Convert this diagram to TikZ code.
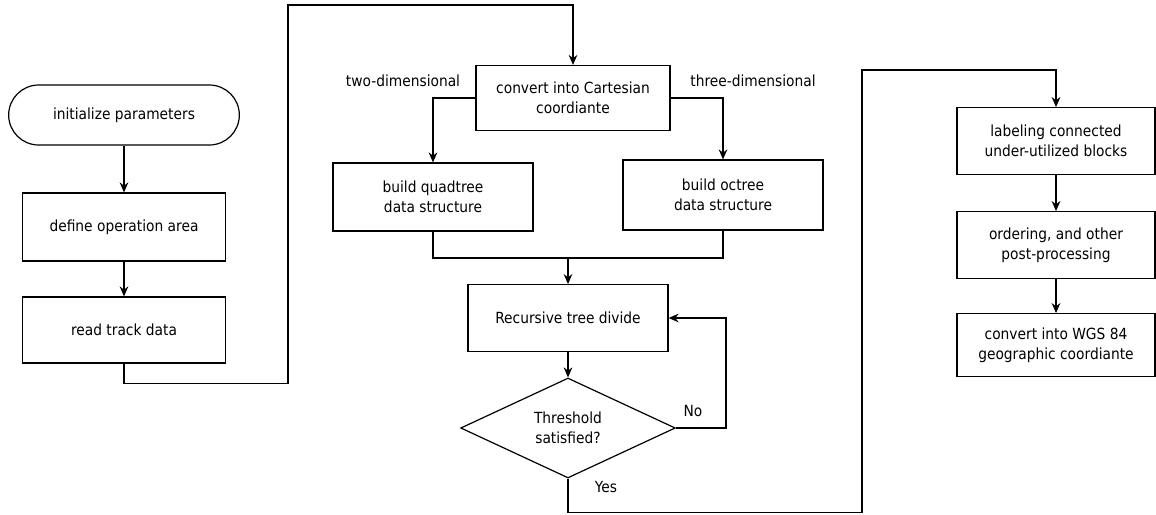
\documentclass[tikz,border=0pt]{standalone}
\usepackage{fontspec}
\setmainfont{DejaVu Sans Condensed}
\usepackage{tikz}
\usetikzlibrary{arrows.meta,shapes.geometric,shapes.misc}

\begin{document}
\begin{tikzpicture}[
  x=0.75pt, y=-0.75pt,
  stepbox/.style={draw, line width=0.9pt, align=center, inner sep=2pt,
    minimum width=150pt, minimum height=50pt,
    font=\fontsize{11.5}{15}\selectfont},
  startbox/.style={stepbox, rounded rectangle, minimum width=177pt,
    minimum height=45pt},
  testbox/.style={stepbox, diamond, aspect=2.15, inner sep=0pt,
    minimum width=161pt, minimum height=75pt},
  tag/.style={font=\fontsize{11.5}{15}\selectfont},
  line/.style={line width=0.9pt},
  >={Stealth[length=7.5pt,width=6.5pt]},
]
\useasboundingbox (0,0) rectangle (1156,514);
\node[startbox] (init) at (124,115) {initialize parameters};
\node[stepbox, minimum width=152pt, minimum height=51pt] (area) at (124,227) {define operation area};
\node[stepbox, minimum width=152pt, minimum height=49.5pt] (read) at (124,330) {read track data};
\node[stepbox, minimum width=145.5pt, minimum height=48.75pt] (cart) at (573,98) {convert into Cartesian\\coordiante};
\node[stepbox, minimum height=51pt] (quad) at (433,197) {build quadtree\\data structure};
\node[stepbox, minimum height=52.5pt] (oct) at (723,195) {build octree\\data structure};
\node[stepbox] (rec) at (568,318) {Recursive tree divide};
\node[testbox] (thr) at (568,428) {Threshold\\satisfied?};
\node[stepbox, minimum width=148.5pt] (lab) at (1056,141) {labeling connected\\under-utilized blocks};
\node[stepbox, minimum width=148.5pt] (ord) at (1056,245) {ordering, and other\\post-processing};
\node[stepbox, minimum width=148.5pt, minimum height=47pt] (wgs) at (1056,345) {convert into WGS 84\\geographic coordiante};
\node[tag] (twod) at (403,81) {two-dimensional};
\node[tag] (threed) at (753,81) {three-dimensional};
\node[tag] (no) at (693,411) {No};
\node[tag] (yes) at (606,487) {Yes};
\coordinate (join) at (568,258);
\draw[line, ->] (area.north |- init.south) -- (area.north);
\draw[line, ->] (area) -- (read);
\draw[line, ->] (read.south) -- ++(0,20) -| (288,5) -| (cart.north);
\draw[line, ->] (cart.west) -| (quad.north);
\draw[line, ->] (cart.east) -| (oct.north);
\draw[line] (quad.south) |- (join) -| (oct.south);
\draw[line, ->] (join) -- (rec.north);
\draw[line, ->] (rec) -- (thr);
\draw[line, ->] (thr.east) -- ++(50,0) |- (rec.east);
\draw[line, ->] (thr.south) -- ++(0,34) -| (862,70) -| (lab.north);
\draw[line, ->] (lab) -- (ord);
\draw[line, ->] (ord) -- (wgs);
\end{tikzpicture}
\end{document}
